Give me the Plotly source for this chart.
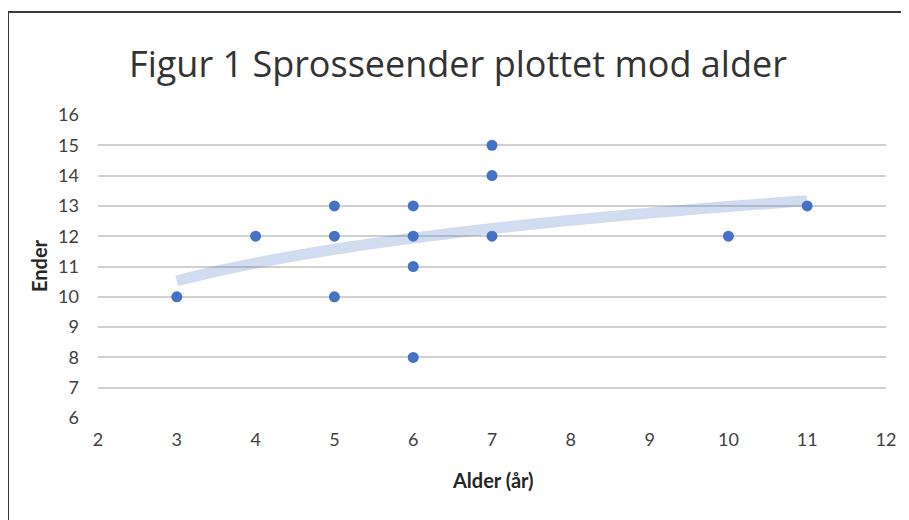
import numpy as np
import plotly.graph_objects as go

# Data
alder = [3, 4, 5, 5, 5, 6, 6, 6, 6, 7, 7, 7, 10, 11]
ender = [10, 12, 13, 12, 10, 13, 12, 11, 8, 15, 14, 12, 12, 13]
x_ticks = [2, 3, 4, 5, 6, 7, 8, 9, 10, 11, 12]
y_ticks = [6, 7, 8, 9, 10, 11, 12, 13, 14, 15, 16]
title_text = "Figur 1 Sprosseender plottet mod alder"
x_title = "Alder (år)"
y_title = "Ender"

# Logarithmic trendline (least squares fit of y = a*ln(x) + b)
lx = np.log(np.array(alder, dtype=float))
a, b = np.polyfit(lx, np.array(ender, dtype=float), 1)
tx = np.linspace(min(alder), max(alder), 200)
ty = a * np.log(tx) + b

# The page has an 8px body margin; work in page pixels and shift.
OFF = 8
W, H = 909 - OFF, 520 - OFF
PL, PR, PT, PB = 98, 886, 115, 418          # plot area in page pixels
L, R, T, B = PL - OFF, (W + OFF) - PR, PT - OFF, (H + OFF) - PB
pw, ph = PR - PL, PB - PT

FONT = "Lato"

fig = go.Figure()
fig.add_trace(go.Scatter(x=tx, y=ty, mode="lines",
                         line=dict(color="rgba(68,114,196,0.25)", width=11, simplify=False),
                         hoverinfo="skip", showlegend=False))
fig.add_trace(go.Scatter(x=alder, y=ender, mode="markers",
                         marker=dict(color="#4472C4", size=11),
                         showlegend=False))

def px_x(p):
    return (p - PL) / pw

def px_y(p):
    return (PB - p) / ph

fig.update_layout(
    width=W, height=H,
    margin=dict(l=L, r=R, t=T, b=B),
    paper_bgcolor="white", plot_bgcolor="white",
    title=dict(text=title_text, x=(458 - OFF) / W, y=1 - (64 - OFF) / H,
               xref="container", yref="container",
               xanchor="center", yanchor="middle",
               font=dict(family="Open Sans", size=36, color="#333333")),
    xaxis=dict(range=[2, 12], tickvals=x_ticks, showgrid=False, zeroline=False,
               showline=False, ticks="", ticklabelstandoff=9,
               tickfont=dict(family=FONT, size=18, color="#404040")),
    yaxis=dict(range=[6, 16], tickvals=y_ticks, showgrid=True, gridcolor="#D0D0D0",
               gridwidth=1.5, zeroline=False, showline=False, ticks="",
               ticklabelstandoff=18,
               tickfont=dict(family=FONT, size=18, color="#404040")),
    annotations=[
        dict(text="<b>" + x_title + "</b>", xref="paper", yref="paper",
             x=px_x(493), y=px_y(480), showarrow=False, xanchor="center", yanchor="middle",
             font=dict(family=FONT, size=20, color="#262626")),
        dict(text="<b>" + y_title + "</b>", xref="paper", yref="paper",
             x=px_x(39), y=px_y(266), showarrow=False, xanchor="center", yanchor="middle",
             textangle=-90, font=dict(family=FONT, size=20, color="#262626")),
    ],
    shapes=[
        dict(type="line", xref="paper", yref="paper", layer="above",
             x0=px_x(8), x1=px_x(8), y0=px_y(540), y1=px_y(12),
             line=dict(color="#3A3A3A", width=2)),
        dict(type="line", xref="paper", yref="paper", layer="above",
             x0=px_x(7), x1=px_x(930), y0=px_y(12), y1=px_y(12),
             line=dict(color="#3A3A3A", width=2)),
    ],
    showlegend=False,
)

fig.write_html("out.html")
